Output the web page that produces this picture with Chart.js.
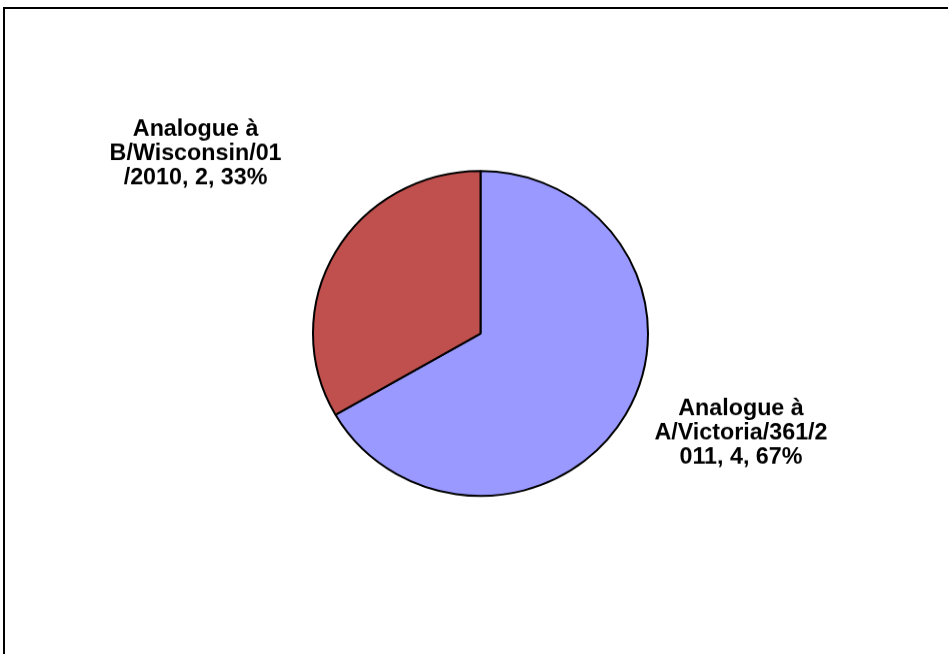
<!DOCTYPE html>
<html>
<head>
<meta charset="utf-8">
<script src="https://cdn.jsdelivr.net/npm/chart.js@4.4.0/dist/chart.umd.min.js"></script>
<style>
  html, body { margin: 0; padding: 0; background: #fff; }
  #wrap { position: relative; width: 948px; height: 654px; overflow: hidden; }
  #frame { position: absolute; left: 3px; top: 7px; right: -10px; bottom: -10px;
           border-top: 2px solid #000; border-left: 2px solid #000; }
  /* the original picture is a little squashed vertically */
  #squash { position: absolute; left: 0; top: 0; width: 948px; height: 674px;
            transform: scaleY(0.97); transform-origin: 0 0; }
</style>
</head>
<body>
<div id="wrap">
  <div id="frame"></div>
  <div id="squash"><canvas id="pieChart" width="948" height="674"></canvas></div>
</div>
<script>
// data
var names = ["Analogue à A/Victoria/361/2011", "Analogue à B/Wisconsin/01/2010"];
var counts = [4, 2];
var percents = [67, 33];
var colors = ["#9999FF", "#C0504D"];

// how each label wraps, as in the original
var labelLines = [
    ["Analogue à", "A/Victoria/361/2", "011, 4, 67%"],
    ["Analogue à", "B/Wisconsin/01", "/2010, 2, 33%"]
];
// middle line baseline, in pie radii from the pie centre
var labelSpot = [[1.555, 0.651], [-1.701, -1.068]];

var pieLabels = {
    id: "pieLabels",
    afterDraw: function (chart) {
        var ctx = chart.ctx;
        var arcs = chart.getDatasetMeta(0).data;
        ctx.save();
        ctx.fillStyle = "#000";
        ctx.font = "bold 23.3px 'Liberation Sans', Arial, sans-serif";
        ctx.textAlign = "center";
        ctx.textBaseline = "alphabetic";
        arcs.forEach(function (arc, i) {
            var r = arc.outerRadius;
            var cx = arc.x + labelSpot[i][0] * r;
            var cy = arc.y + labelSpot[i][1] * r;
            labelLines[i].forEach(function (line, j) {
                ctx.fillText(line, cx, cy + (j - 1) * 25.3);
            });
        });
        ctx.restore();
    }
};

new Chart(document.getElementById("pieChart"), {
    type: "pie",
    data: {
        labels: names,
        datasets: [{
            data: counts,
            backgroundColor: colors,
            borderColor: "#000",
            borderWidth: 2,
            radius: 167.5
        }]
    },
    options: {
        responsive: false,
        animation: false,
        layout: { padding: { left: 312.5, right: 299.5, top: 175.8, bottom: 162.2 } },
        plugins: {
            legend: { display: false },
            tooltip: { enabled: false }
        }
    },
    plugins: [pieLabels]
});
</script>
</body>
</html>
